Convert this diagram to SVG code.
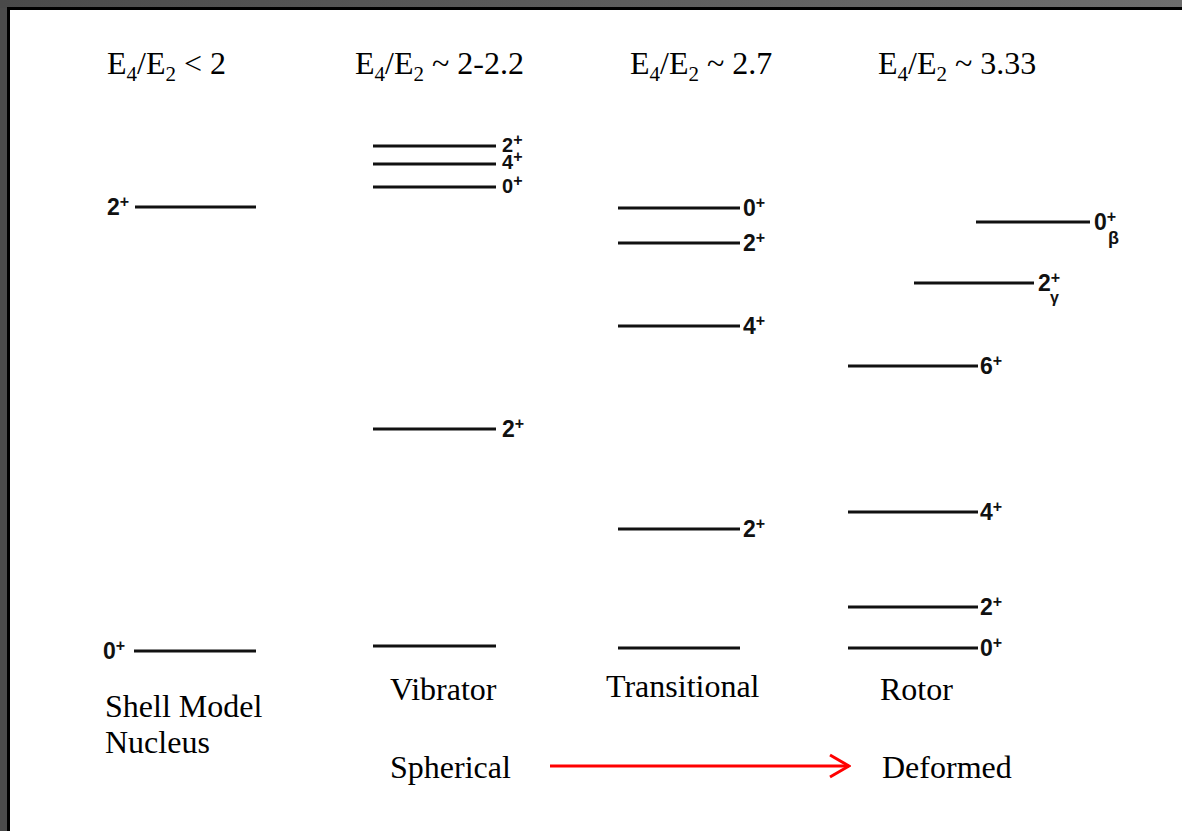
<svg xmlns="http://www.w3.org/2000/svg" width="1182" height="831" viewBox="0 0 1182 831">
  <defs>
    <linearGradient id="frameTop" x1="0" y1="0" x2="1" y2="0">
      <stop offset="0" stop-color="#4a4a4a"/>
      <stop offset="1" stop-color="#6e6e6e"/>
    </linearGradient>
    <marker id="openArrow" viewBox="0 0 22 26" refX="20" refY="13" markerWidth="22" markerHeight="26" markerUnits="userSpaceOnUse" orient="auto">
      <path d="M1,2 L20,13 L1,24" fill="none" stroke="#ff0000" stroke-width="3"/>
    </marker>
    <style>
      .lvl { stroke: #111; stroke-width: 2.8; fill: none; }
      .head { font-family: "Liberation Serif", "Times New Roman", serif; font-size: 32px; fill: #000; }
      .sub { font-size: 21px; }
      .cap { font-family: "Liberation Serif", "Times New Roman", serif; font-size: 32px; fill: #000; }
      .jp { font-family: "Liberation Sans", Arial, sans-serif; font-size: 23px; font-weight: bold; fill: #111; }
      .sup { font-size: 16px; }
      .stack { font-size: 20px; }
    </style>
  </defs>

  <!-- window frame -->
  <rect x="0" y="0" width="1182" height="831" fill="#4c4c4c"/>
  <rect x="0" y="0" width="1182" height="8" fill="url(#frameTop)"/>
  <rect x="7" y="7" width="1175" height="824" fill="#000"/>
  <rect x="10" y="10" width="1172" height="821" fill="#fff"/>

  <!-- ratio headings -->
  <g id="headings">
    <text class="head" x="107" y="74">E<tspan class="sub" dy="7">4</tspan><tspan dy="-7">/E</tspan><tspan class="sub" dy="7">2</tspan><tspan dy="-7"> &lt; 2</tspan></text>
    <text class="head" x="355" y="74">E<tspan class="sub" dy="7">4</tspan><tspan dy="-7">/E</tspan><tspan class="sub" dy="7">2</tspan><tspan dy="-7"> ~ 2-2.2</tspan></text>
    <text class="head" x="630" y="74">E<tspan class="sub" dy="7">4</tspan><tspan dy="-7">/E</tspan><tspan class="sub" dy="7">2</tspan><tspan dy="-7"> ~ 2.7</tspan></text>
    <text class="head" x="878" y="74">E<tspan class="sub" dy="7">4</tspan><tspan dy="-7">/E</tspan><tspan class="sub" dy="7">2</tspan><tspan dy="-7"> ~ 3.33</tspan></text>
  </g>

  <!-- shell model spectrum -->
  <g id="shell-model">
    <line class="lvl" x1="135" y1="207" x2="256" y2="207"/>
    <text class="jp" x="107" y="215">2<tspan class="sup" dy="-8">+</tspan></text>
    <line class="lvl" x1="134" y1="651" x2="256" y2="651"/>
    <text class="jp" x="103" y="659">0<tspan class="sup" dy="-8">+</tspan></text>
    <text class="cap" x="105" y="717">Shell Model</text>
    <text class="cap" x="105" y="753">Nucleus</text>
  </g>

  <!-- vibrator spectrum: two-phonon triplet and one-phonon 2+ -->
  <g id="vibrator">
    <line class="lvl" x1="373" y1="146" x2="496" y2="146"/>
    <text class="jp stack" x="502" y="152">2<tspan class="sup" dy="-7">+</tspan></text>
    <line class="lvl" x1="373" y1="164" x2="496" y2="164"/>
    <text class="jp stack" x="502" y="169">4<tspan class="sup" dy="-7">+</tspan></text>
    <line class="lvl" x1="373" y1="187" x2="496" y2="187"/>
    <text class="jp stack" x="502" y="193">0<tspan class="sup" dy="-7">+</tspan></text>
    <line class="lvl" x1="373" y1="429" x2="496" y2="429"/>
    <text class="jp" x="502" y="437">2<tspan class="sup" dy="-8">+</tspan></text>
    <line class="lvl" x1="373" y1="646" x2="496" y2="646"/>
    <text class="cap" x="390" y="700">Vibrator</text>
  </g>

  <!-- transitional spectrum -->
  <g id="transitional">
    <line class="lvl" x1="618" y1="208" x2="740" y2="208"/>
    <text class="jp" x="743" y="216">0<tspan class="sup" dy="-8">+</tspan></text>
    <line class="lvl" x1="618" y1="243" x2="740" y2="243"/>
    <text class="jp" x="743" y="251">2<tspan class="sup" dy="-8">+</tspan></text>
    <line class="lvl" x1="618" y1="326" x2="740" y2="326"/>
    <text class="jp" x="743" y="334">4<tspan class="sup" dy="-8">+</tspan></text>
    <line class="lvl" x1="618" y1="529" x2="740" y2="529"/>
    <text class="jp" x="743" y="537">2<tspan class="sup" dy="-8">+</tspan></text>
    <line class="lvl" x1="618" y1="648" x2="740" y2="648"/>
    <text class="cap" x="606" y="697">Transitional</text>
  </g>

  <!-- rotor spectrum: ground band plus beta and gamma band heads -->
  <g id="rotor">
    <line class="lvl" x1="976" y1="222" x2="1090" y2="222"/>
    <text class="jp" x="1094" y="230">0<tspan class="sup" dy="-8">+</tspan></text>
    <text class="jp" x="1108" y="244" style="font-size:18px">β</text>
    <line class="lvl" x1="914" y1="283" x2="1034" y2="283"/>
    <text class="jp" x="1038" y="291">2<tspan class="sup" dy="-8">+</tspan></text>
    <text class="jp" x="1050" y="303" style="font-size:16px">γ</text>
    <line class="lvl" x1="848" y1="366" x2="978" y2="366"/>
    <text class="jp" x="980" y="374">6<tspan class="sup" dy="-8">+</tspan></text>
    <line class="lvl" x1="848" y1="512" x2="978" y2="512"/>
    <text class="jp" x="980" y="520">4<tspan class="sup" dy="-8">+</tspan></text>
    <line class="lvl" x1="848" y1="607" x2="978" y2="607"/>
    <text class="jp" x="980" y="615">2<tspan class="sup" dy="-8">+</tspan></text>
    <line class="lvl" x1="848" y1="648" x2="978" y2="648"/>
    <text class="jp" x="980" y="656">0<tspan class="sup" dy="-8">+</tspan></text>
    <text class="cap" x="880" y="700">Rotor</text>
  </g>

  <!-- shape evolution -->
  <g id="spherical"><text class="cap" x="390" y="778">Spherical</text></g>
  <g id="deformed"><text class="cap" x="882" y="778">Deformed</text></g>
  <g id="connectors">
    <line x1="550" y1="766" x2="849" y2="766" stroke="#ff0000" stroke-width="3" marker-end="url(#openArrow)"/>
  </g>
</svg>
